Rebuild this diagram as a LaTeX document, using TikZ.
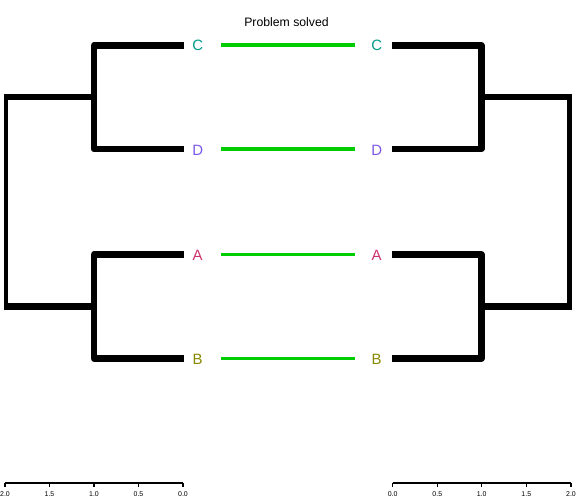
\documentclass[tikz,border=0pt]{standalone}
\usepackage{fontspec}
\setmainfont{Liberation Sans}
\definecolor{cC}{RGB}{0,153,136}
\definecolor{cD}{RGB}{123,87,230}
\definecolor{cA}{RGB}{204,51,110}
\definecolor{cB}{RGB}{136,136,0}
\definecolor{linkgreen}{RGB}{0,205,0}
\begin{document}
\begin{tikzpicture}[x=1bp,y=-1bp,
  branch/.style={line width=6.5bp,line join=round,line cap=butt},
  outerv/.style={line width=4.5bp,line cap=butt},
  link/.style={line width=3.5bp,draw=linkgreen},
  leaflab/.style={inner sep=0pt,font=\fontsize{15}{15}\selectfont},
  axisline/.style={line width=1.1bp},
  ticklab/.style={inner sep=0pt,font=\fontsize{7}{8}\selectfont}]
\useasboundingbox (0,0) rectangle (576,504);
% title
\node[inner sep=0pt,anchor=base,font=\fontsize{12.3}{13}\selectfont] (title) at (286.5,26.5) {Problem solved};
% left tree coordinates
\coordinate (LC) at (184,45.5);
\coordinate (LD) at (184,149);
\coordinate (LA) at (184,254.5);
\coordinate (LB) at (184,358.5);
\coordinate (LCD) at (94,45.5);
\coordinate (LDC) at (94,149);
\coordinate (LAB) at (94,254.5);
\coordinate (LBA) at (94,358.5);
\coordinate (LU) at (94,97.25);
\coordinate (LL) at (94,306.5);
\coordinate (LUo) at (4,97.25);
\coordinate (LLo) at (4,306.5);
\coordinate (LUv) at (6.2,97.25);
\coordinate (LLv) at (6.2,306.5);
\draw[branch] (LC) -- (LCD) -- (LDC) -- (LD);
\draw[branch] (LA) -- (LAB) -- (LBA) -- (LB);
\draw[branch] (LU) -- (LUo);
\draw[branch] (LL) -- (LLo);
\draw[outerv] (LUv) -- (LLv);
% right tree coordinates
\coordinate (RC) at (392,45.5);
\coordinate (RD) at (392,149);
\coordinate (RA) at (392,254.5);
\coordinate (RB) at (392,358.5);
\coordinate (RCD) at (481.5,45.5);
\coordinate (RDC) at (481.5,149);
\coordinate (RAB) at (481.5,254.5);
\coordinate (RBA) at (481.5,358.5);
\coordinate (RU) at (481.5,97.25);
\coordinate (RL) at (481.5,306.5);
\coordinate (RUo) at (572,97.25);
\coordinate (RLo) at (572,306.5);
\coordinate (RUv) at (569.7,97.25);
\coordinate (RLv) at (569.7,306.5);
\draw[branch] (RC) -- (RCD) -- (RDC) -- (RD);
\draw[branch] (RA) -- (RAB) -- (RBA) -- (RB);
\draw[branch] (RU) -- (RUo);
\draw[branch] (RL) -- (RLo);
\draw[outerv] (RUv) -- (RLv);
% labels
\node[leaflab,text=cC] (lc) at (197.7,45.5) {C};
\node[leaflab,text=cD] (ld) at (197.7,150.5) {D};
\node[leaflab,text=cA] (la) at (197.5,255) {A};
\node[leaflab,text=cB] (lb) at (197.5,359.5) {B};
\node[leaflab,text=cC] (rc) at (376.7,45.5) {C};
\node[leaflab,text=cD] (rd) at (376.7,150.5) {D};
\node[leaflab,text=cA] (ra) at (376.7,255) {A};
\node[leaflab,text=cB] (rb) at (376.7,359.5) {B};
% links
\coordinate (gC1) at (221,45); \coordinate (gC2) at (355,45);
\coordinate (gD1) at (221,149); \coordinate (gD2) at (355,149);
\coordinate (gA1) at (221,254.5); \coordinate (gA2) at (355,254.5);
\coordinate (gB1) at (221,358.5); \coordinate (gB2) at (355,358.5);
\draw[link] (gC1) -- (gC2);
\draw[link] (gD1) -- (gD2);
\draw[link] (gA1) -- (gA2);
\draw[link] (gB1) -- (gB2);
% left axis
\coordinate (lax0) at (183,483);
\coordinate (lax2) at (5,483);
\draw[axisline] (lax2) -- (lax0);
\foreach \v/\x in {2.0/5,1.5/49.5,1.0/94,0.5/138.5,0.0/183}{
  \draw[axisline] (\x,483) -- (\x,487);
  \node[ticklab] (lt\x) at (\x,494.3) {\v};
}
% right axis
\coordinate (rax0) at (392.7,483);
\coordinate (rax2) at (571,483);
\draw[axisline] (rax0) -- (rax2);
\foreach \v/\x in {0.0/392.7,0.5/437.3,1.0/481.7,1.5/526.3,2.0/571}{
  \draw[axisline] (\x,483) -- (\x,487);
  \node[ticklab] (rt\x) at (\x,494.3) {\v};
}
\end{tikzpicture}
\end{document}
